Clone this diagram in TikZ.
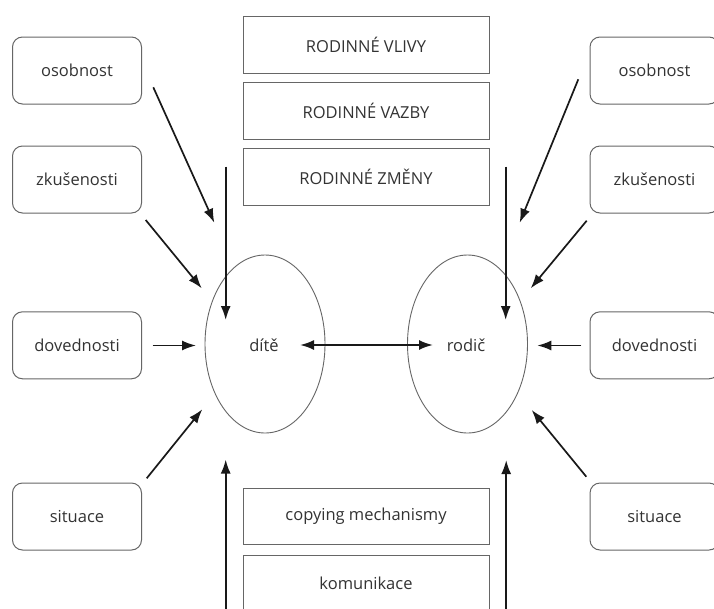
\documentclass[tikz,border=0pt]{standalone}
\usepackage{fontspec}
\setmainfont{Open Sans}
\usetikzlibrary{arrows.meta,shapes.geometric}
\definecolor{txt}{HTML}{333333}
\definecolor{frame}{HTML}{666666}
\begin{document}
\begin{tikzpicture}[x=1pt,y=-1pt,
  every node/.style={font=\fontsize{16.5}{19}\selectfont, text=txt},
  sidebox/.style={draw=frame, line width=1pt, rounded corners=10pt, minimum width=129pt, minimum height=67pt, inner sep=0pt},
  midbox/.style={draw=frame, line width=1pt, minimum width=246pt, minimum height=56.5pt, inner sep=0pt},
  oval/.style={draw=frame, line width=0.9pt, ellipse, minimum width=120pt, minimum height=178pt, inner sep=0pt},
  arr/.style={draw=black!90, line width=1.7pt, -{Latex[length=14pt,width=10pt]}},
  varr/.style={draw=black!90, line width=1.9pt, -{Latex[length=14pt,width=10pt]}},
  darr/.style={draw=black!90, line width=2pt, {Latex[length=14pt,width=10pt]}-{Latex[length=14pt,width=10pt]}}
]
\useasboundingbox (0,0) rectangle (714,608);
\fill[white] (0,0) rectangle (714,608);

% left boxes
\node[sidebox] (lo) at (77,70.5) {osobnost};
\node[sidebox] (lz) at (77,179.5) {zkušenosti};
\node[sidebox] (ld) at (77,345.3) {dovednosti};
\node[sidebox] (ls) at (77,516.5) {situace};
% right boxes
\node[sidebox] (ro) at (654.5,70.5) {osobnost};
\node[sidebox] (rz) at (654.5,179.5) {zkušenosti};
\node[sidebox] (rd) at (654.5,345.3) {dovednosti};
\node[sidebox] (rs) at (654.5,516.5) {situace};
% middle boxes
\node[midbox] (vlivy) at (366,45) {RODINNÉ VLIVY};
\node[midbox] (vazby) at (366,111) {RODINNÉ VAZBY};
\node[midbox] (zmeny) at (366,177) {RODINNÉ ZMĚNY};
\node[midbox] (coping) at (366,516.5) {copying mechanismy};
\node[midbox] (komun) at (366,583.5) {komunikace};
% ellipses
\node[oval] (dite) at (265,344) {};
\node[oval] (rodic) at (467.5,344) {};
\node (ditet) at (264,345) {dítě};
\node (rodict) at (466,345) {rodič};

% arrow ends
\coordinate (a1) at (153.3,87.3);  \coordinate (b1) at (214.3,222.7);
\coordinate (a2) at (145.7,220);   \coordinate (b2) at (201.7,288.3);
\coordinate (a3) at (152.7,345.5); \coordinate (b3) at (196,345.5);
\coordinate (a4) at (146.7,478.3); \coordinate (b4) at (202.3,409.3);
\coordinate (a5) at (578.3,79.3);  \coordinate (b5) at (519.7,222.7);
\coordinate (a6) at (586.7,220.7); \coordinate (b6) at (530.7,288.3);
\coordinate (a7) at (581.3,345.5); \coordinate (b7) at (537.3,345.5);
\coordinate (a8) at (586.3,476.7); \coordinate (b8) at (531.7,410);
\coordinate (vl1) at (225.7,166.7); \coordinate (vl2) at (225.7,320);
\coordinate (vr1) at (505.7,166.7); \coordinate (vr2) at (505.7,320);
\coordinate (ul1) at (225.7,610);   \coordinate (ul2) at (225.7,459.5);
\coordinate (ur1) at (506.2,610);   \coordinate (ur2) at (506.2,460);
\coordinate (d1) at (300,345);      \coordinate (d2) at (433,345);

\draw[arr] (a1) -- (b1);
\draw[arr] (a2) -- (b2);
\draw[arr] (a3) -- (b3);
\draw[arr] (a4) -- (b4);
\draw[arr] (a5) -- (b5);
\draw[arr] (a6) -- (b6);
\draw[arr] (a7) -- (b7);
\draw[arr] (a8) -- (b8);
\draw[varr] (vl1) -- (vl2);
\draw[varr] (vr1) -- (vr2);
\draw[varr] (ul1) -- (ul2);
\draw[varr] (ur1) -- (ur2);
\draw[darr] (d1) -- (d2);
\end{tikzpicture}
\end{document}
